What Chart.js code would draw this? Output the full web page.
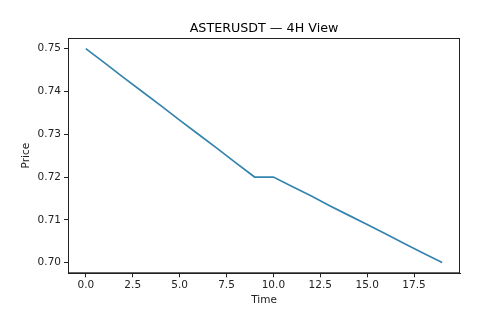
<!DOCTYPE html>
<html>
<head>
<meta charset="utf-8">
<script src="https://cdn.jsdelivr.net/npm/chart.js@4"></script>
<style>
  html, body { margin: 0; padding: 0; background: #fff; }
  #wrap { width: 481px; height: 328px; }
</style>
</head>
<body>
<div id="wrap"><canvas id="priceChart"></canvas></div>
<script>
// data
const timeValues = [0, 1, 2, 3, 4, 5, 6, 7, 8, 9, 10, 11, 12, 13, 14, 15, 16, 17, 18, 19];
const priceValues = [0.75, 0.7467, 0.7433, 0.74, 0.7367, 0.7333, 0.73, 0.7267, 0.7233, 0.72,
    0.72, 0.7178, 0.7156, 0.7133, 0.7111, 0.7089, 0.7067, 0.7044, 0.7022, 0.70];
const xTicks = [0, 2.5, 5, 7.5, 10, 12.5, 15, 17.5];
const yTicks = [0.70, 0.71, 0.72, 0.73, 0.74, 0.75];
const chartTitle = 'ASTERUSDT — 4H View';

Chart.defaults.font.family = 'DejaVu Sans';
Chart.defaults.color = '#222';

// box around plot + title centred over axes
const frameAndTitle = {
    id: 'frameAndTitle',
    afterDraw(chart) {
        const { ctx, chartArea: a } = chart;
        ctx.save();
        ctx.strokeStyle = '#222';
        ctx.lineWidth = 1;
        ctx.strokeRect(a.left + 0.5, a.top + 0.5, a.right - a.left - 1, a.bottom - a.top - 1);
        ctx.fillStyle = '#000';
        ctx.font = '12.7px "DejaVu Sans"';
        ctx.textAlign = 'center';
        ctx.textBaseline = 'alphabetic';
        ctx.fillText(chartTitle, (a.left + a.right) / 2, 32);
        ctx.restore();
    }
};

const ctx = document.getElementById('priceChart').getContext('2d');
const priceChart = new Chart(ctx, {
    type: 'line',
    data: {
        datasets: [{
            label: 'Price',
            data: timeValues.map((t, i) => ({ x: t, y: priceValues[i] })),
            borderColor: '#3584ad',
            borderWidth: 1.7,
            pointRadius: 0,
            fill: false,
            tension: 0
        }]
    },
    options: {
        responsive: true,
        maintainAspectRatio: false,
        animation: false,
        layout: { padding: { top: 38, right: 21, bottom: 21, left: 20 } },
        plugins: {
            legend: { display: false },
            tooltip: { enabled: false },
            title: { display: false }
        },
        scales: {
            x: {
                type: 'linear',
                min: -0.95,
                max: 19.95,
                afterBuildTicks: (scale) => { scale.ticks = xTicks.map(v => ({ value: v })); },
                afterFit: (scale) => { scale.height = 33.7; },
                ticks: {
                    font: { size: 10.5 },
                    padding: 2,
                    maxRotation: 0,
                    callback: (v) => Number(v).toFixed(1)
                },
                grid: { drawOnChartArea: false, drawTicks: true, tickLength: 4, color: '#222' },
                border: { display: true, color: '#222' },
                title: { display: true, text: 'Time', font: { size: 10.5 }, padding: 0, color: '#222' }
            },
            y: {
                min: 0.6975,
                max: 0.7525,
                afterBuildTicks: (scale) => { scale.ticks = yTicks.map(v => ({ value: v })); },
                afterFit: (scale) => { scale.width = 48; },
                ticks: {
                    font: { size: 10.5 },
                    padding: 3,
                    callback: (v) => Number(v).toFixed(2)
                },
                grid: { drawOnChartArea: false, drawTicks: true, tickLength: 4, color: '#222' },
                border: { display: true, color: '#222' },
                title: { display: true, text: 'Price', font: { size: 10.5 }, padding: 0, color: '#222' }
            }
        }
    },
    plugins: [frameAndTitle]
});
</script>
</body>
</html>
